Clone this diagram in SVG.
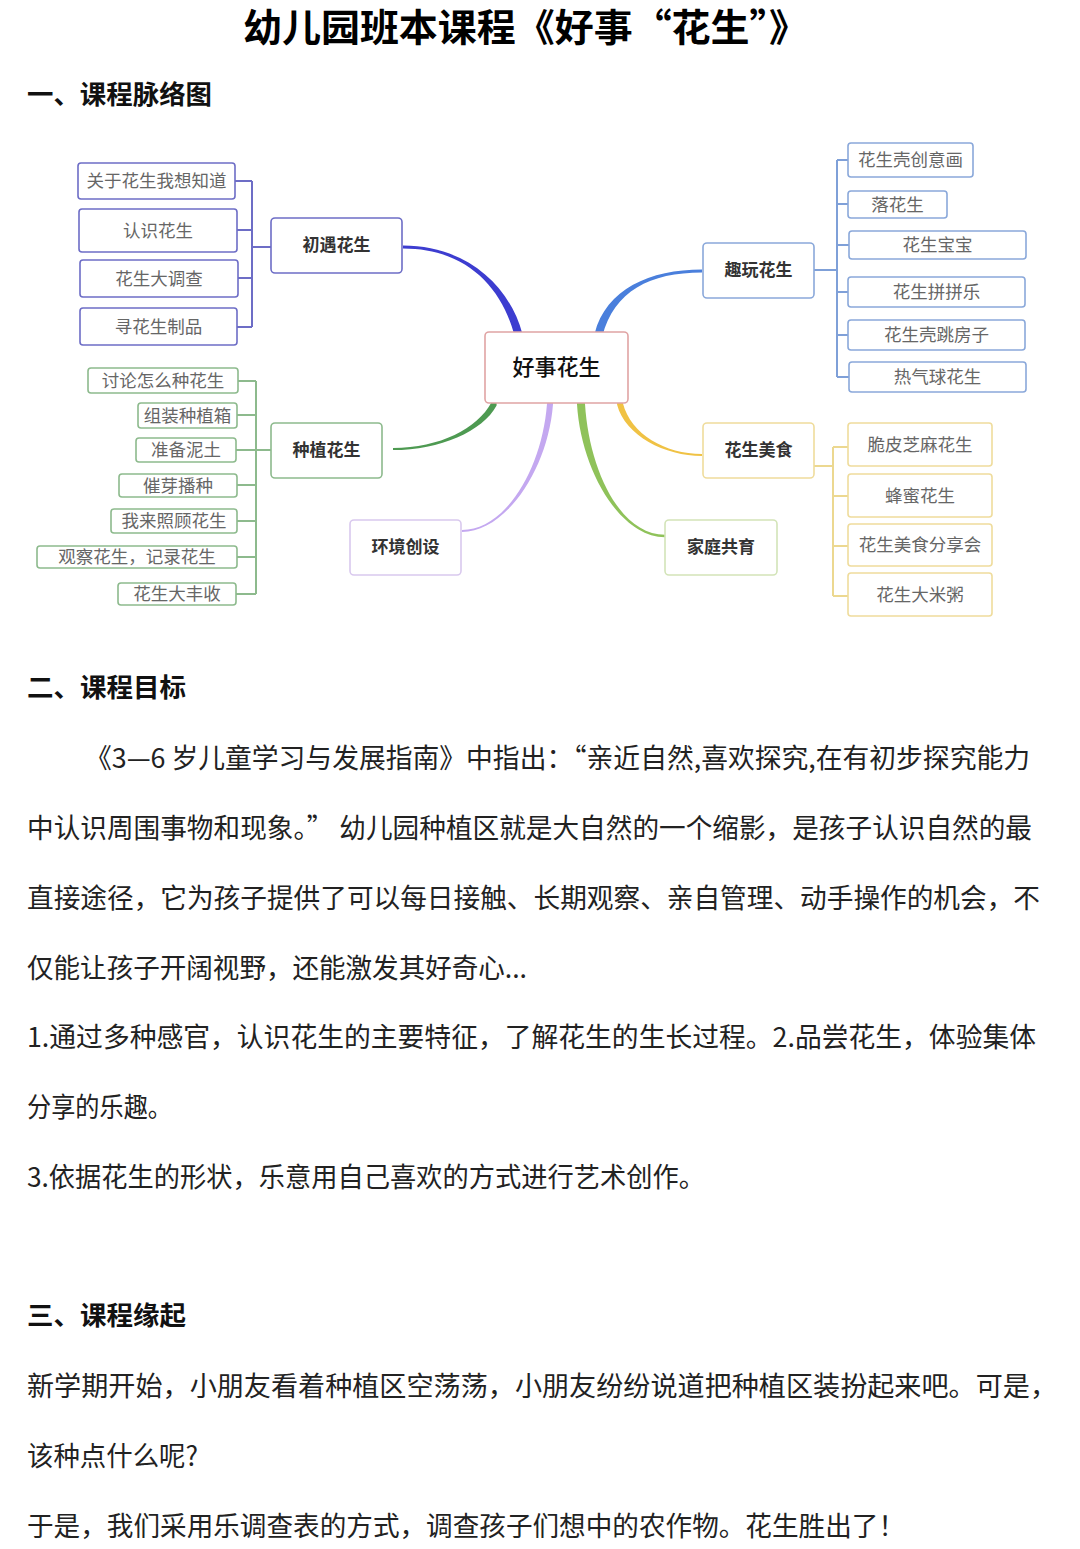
<svg xmlns="http://www.w3.org/2000/svg" width="1080" height="1549" viewBox="0 0 1080 1549">
<style>
.t{font-family:"Noto Sans CJK SC","Noto Sans",sans-serif;}
.title{font-size:38px;font-weight:700;fill:#000;}
.h{font-size:26px;font-weight:700;fill:#111;}
.p{font-size:27px;fill:#222;}
.c{font-size:17.5px;fill:#666;text-anchor:middle;}
.m{font-size:17px;font-weight:700;fill:#333;text-anchor:middle;}
.box{fill:#fff;stroke-width:1.6;}
.pu{stroke:#6d6dc6;}
.gr{stroke:#8dba8d;}
.bl{stroke:#8aa8da;}
.go{stroke:#efdc9c;}
.br{fill:none;stroke-width:2;}
</style>
<rect width="1080" height="1549" fill="#fff"/>
<text class="t title" x="243" y="41" textLength="565" lengthAdjust="spacingAndGlyphs">幼儿园班本课程《好事“花生”》</text>
<text class="t h" x="27" y="104" textLength="185" lengthAdjust="spacingAndGlyphs">一、课程脉络图</text>

<g id="connectors">
  <g class="br" stroke="#6d6dc6">
    <path d="M252,181 V327 M235,181 H252 M237,230 H252 M238,278 H252 M237,327 H252 M252,247 H271"/>
  </g>
  <g class="br" stroke="#8dba8d">
    <path d="M256,381 V594 M238,381 H256 M237,415 H256 M236,450 H256 M237,485 H256 M237,521 H256 M237,557 H256 M236,594 H256 M256,450 H271"/>
  </g>
  <g class="br" stroke="#7fa0d8">
    <path d="M837,160 V377 M837,160 H848 M837,204 H848 M837,245 H849 M837,292 H848 M837,335 H848 M837,377 H849 M814,270 H837"/>
  </g>
  <g class="br" stroke="#ecd890">
    <path d="M833,447 V596 M833,447 H848 M833,496 H848 M833,546 H848 M833,596 H848 M814,466 H833"/>
  </g>
  <path fill="#3d3dd0" d="M403,245.6 C465,245.6 509,284 522.4,333.8 A4,4 0 0 1 514.6,336 C501.6,286 465,248.4 403,248.4 Z"/>
  <path fill="#4a7fdc" d="M702,272.4 C650,272.4 614,291 602.4,336 A4,4 0 0 1 594.6,333.8 C606,289 650,269.6 702,269.6 Z"/>
  <path fill="#4e9a52" d="M393,448 C440,448 477.4,428.6 491.4,402.6 A3,3 0 0 1 496.6,405.4 C482.6,431.4 440,450 393,450 Z"/>
  <path fill="#c4a8f0" d="M462,530 C505,530 542,469.8 547,403.8 A3,3 0 0 1 553,404.2 C548,470.2 505,532 462,532 Z"/>
  <path fill="#8fc25a" d="M665,537.2 C620,537.2 581,470.2 577,404.2 A4,4 0 0 1 585,403.8 C589,469.8 620,534.8 665,534.8 Z"/>
  <path fill="#f0c244" d="M702,456 C665,456 625.1,435.75 617.1,404.75 A3,3 0 0 1 622.9,403.25 C630.9,434.25 665,454 702,454 Z"/>
</g>

<g id="center">
  <rect class="box" x="485" y="332" width="143" height="71" rx="4" stroke="#e0a4a4"/>
  <text class="t" x="556.5" y="375" font-size="22" font-weight="500" fill="#111" text-anchor="middle">好事花生</text>
</g>

<g id="chuyu">
  <rect class="box pu" x="271" y="218" width="131" height="55" rx="4"/>
  <text class="t m" x="336.5" y="251">初遇花生</text>
</g>
<g id="chuyu-1"><rect class="box pu" x="78" y="163" width="157" height="36" rx="3"/><text class="t c" x="156.5" y="187">关于花生我想知道</text></g>
<g id="chuyu-2"><rect class="box pu" x="79" y="209" width="158" height="43" rx="3"/><text class="t c" x="158" y="236.5">认识花生</text></g>
<g id="chuyu-3"><rect class="box pu" x="80" y="260" width="158" height="37" rx="3"/><text class="t c" x="159" y="284.5">花生大调查</text></g>
<g id="chuyu-4"><rect class="box pu" x="80" y="308" width="157" height="37" rx="3"/><text class="t c" x="158.5" y="332.5">寻花生制品</text></g>

<g id="zhongzhi">
  <rect class="box gr" x="271" y="423" width="111" height="55" rx="4"/>
  <text class="t m" x="326.5" y="456">种植花生</text>
</g>
<g id="zz-1"><rect class="box gr" x="88" y="368" width="150" height="25" rx="3"/><text class="t c" x="163" y="386.5">讨论怎么种花生</text></g>
<g id="zz-2"><rect class="box gr" x="138" y="403" width="99" height="25" rx="3"/><text class="t c" x="187.5" y="421.5">组装种植箱</text></g>
<g id="zz-3"><rect class="box gr" x="136" y="438" width="100" height="24" rx="3"/><text class="t c" x="186" y="456">准备泥土</text></g>
<g id="zz-4"><rect class="box gr" x="119" y="474" width="118" height="23" rx="3"/><text class="t c" x="178" y="491.5">催芽播种</text></g>
<g id="zz-5"><rect class="box gr" x="111" y="509" width="126" height="24" rx="3"/><text class="t c" x="174" y="527">我来照顾花生</text></g>
<g id="zz-6"><rect class="box gr" x="37" y="546" width="200" height="22" rx="3"/><text class="t c" x="137" y="563">观察花生，记录花生</text></g>
<g id="zz-7"><rect class="box gr" x="118" y="583" width="118" height="22" rx="3"/><text class="t c" x="177" y="600">花生大丰收</text></g>

<g id="huanjing">
  <rect class="box" x="350" y="520" width="111" height="55" rx="4" stroke="#d9c9ee"/>
  <text class="t m" x="405.5" y="553">环境创设</text>
</g>
<g id="jiating">
  <rect class="box" x="665" y="520" width="112" height="55" rx="4" stroke="#d3e4b8"/>
  <text class="t m" x="721" y="553">家庭共育</text>
</g>

<g id="quwan">
  <rect class="box bl" x="703" y="243" width="111" height="55" rx="4"/>
  <text class="t m" x="758.5" y="276">趣玩花生</text>
</g>
<g id="qw-1"><rect class="box bl" x="848" y="143" width="125" height="34" rx="3"/><text class="t c" x="910.5" y="166">花生壳创意画</text></g>
<g id="qw-2"><rect class="box bl" x="848" y="191" width="99" height="27" rx="3"/><text class="t c" x="897.5" y="210.5">落花生</text></g>
<g id="qw-3"><rect class="box bl" x="849" y="231" width="177" height="28" rx="3"/><text class="t c" x="937.5" y="251">花生宝宝</text></g>
<g id="qw-4"><rect class="box bl" x="848" y="277" width="177" height="30" rx="3"/><text class="t c" x="936.5" y="298">花生拼拼乐</text></g>
<g id="qw-5"><rect class="box bl" x="848" y="320" width="177" height="30" rx="3"/><text class="t c" x="936.5" y="341">花生壳跳房子</text></g>
<g id="qw-6"><rect class="box bl" x="849" y="362" width="177" height="30" rx="3"/><text class="t c" x="937.5" y="383">热气球花生</text></g>

<g id="meishi">
  <rect class="box go" x="703" y="423" width="111" height="55" rx="4"/>
  <text class="t m" x="758.5" y="456">花生美食</text>
</g>
<g id="ms-1"><rect class="box go" x="848" y="423" width="144" height="43" rx="3"/><text class="t c" x="920" y="450.5">脆皮芝麻花生</text></g>
<g id="ms-2"><rect class="box go" x="848" y="474" width="144" height="43" rx="3"/><text class="t c" x="920" y="501.5">蜂蜜花生</text></g>
<g id="ms-3"><rect class="box go" x="848" y="524" width="144" height="42" rx="3"/><text class="t c" x="920" y="551">花生美食分享会</text></g>
<g id="ms-4"><rect class="box go" x="848" y="573" width="144" height="43" rx="3"/><text class="t c" x="920" y="600.5">花生大米粥</text></g>

<text class="t h" x="27" y="697" textLength="159" lengthAdjust="spacingAndGlyphs">二、课程目标</text>
<text class="t p" x="85" y="768" textLength="945" lengthAdjust="spacingAndGlyphs">《3—6 岁儿童学习与发展指南》中指出：“亲近自然,喜欢探究,在有初步探究能力</text>
<text class="t p" x="27" y="838" textLength="1005" lengthAdjust="spacingAndGlyphs">中认识周围事物和现象。” 幼儿园种植区就是大自然的一个缩影，是孩子认识自然的最</text>
<text class="t p" x="27" y="908" textLength="1013" lengthAdjust="spacingAndGlyphs">直接途径，它为孩子提供了可以每日接触、长期观察、亲自管理、动手操作的机会，不</text>
<text class="t p" x="27" y="978" textLength="500" lengthAdjust="spacingAndGlyphs">仅能让孩子开阔视野，还能激发其好奇心...</text>
<text class="t p" x="27" y="1047" textLength="1009" lengthAdjust="spacingAndGlyphs">1.通过多种感官，认识花生的主要特征，了解花生的生长过程。2.品尝花生，体验集体</text>
<text class="t p" x="27" y="1117" textLength="145" lengthAdjust="spacingAndGlyphs">分享的乐趣。</text>
<text class="t p" x="27" y="1187" textLength="678" lengthAdjust="spacingAndGlyphs">3.依据花生的形状，乐意用自己喜欢的方式进行艺术创作。</text>

<text class="t h" x="27" y="1325" textLength="159" lengthAdjust="spacingAndGlyphs">三、课程缘起</text>
<text class="t p" x="27" y="1396" textLength="1030" lengthAdjust="spacingAndGlyphs">新学期开始，小朋友看着种植区空荡荡，小朋友纷纷说道把种植区装扮起来吧。可是，</text>
<text class="t p" x="27" y="1466" textLength="171" lengthAdjust="spacingAndGlyphs">该种点什么呢?</text>
<text class="t p" x="27" y="1536" textLength="878" lengthAdjust="spacingAndGlyphs">于是，我们采用乐调查表的方式，调查孩子们想中的农作物。花生胜出了！</text>
</svg>
